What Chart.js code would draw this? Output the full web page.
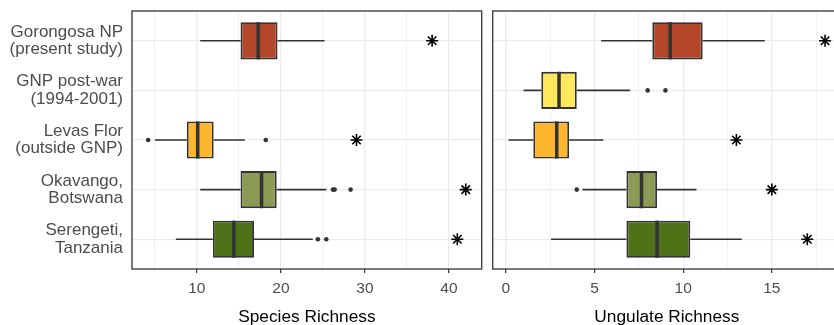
<!DOCTYPE html>
<html>
<head>
<meta charset="utf-8">
<script src="https://cdn.jsdelivr.net/npm/chart.js@4.4.1/dist/chart.umd.min.js"></script>
<style>
html, body { margin: 0; padding: 0; background: #fff; overflow: hidden; width: 834px; height: 325px; }
#speciesChart { position: absolute; left: 0; top: 0; }
#ungulateChart { position: absolute; left: 485px; top: 0; }
</style>
</head>
<body>
<canvas id="speciesChart" width="485" height="325"></canvas>
<canvas id="ungulateChart" width="375" height="325"></canvas>
<script>
// Sites, top to bottom
var siteLabels = [
    ['Gorongosa NP', '(present study)'],
    ['GNP post-war', '(1994-2001)'],
    ['Levas Flor', '(outside GNP)'],
    ['Okavango,', 'Botswana'],
    ['Serengeti,', 'Tanzania']
];
var siteColors = ['#B4462A', '#FFE75E', '#FDB62E', '#8B9A54', '#4F7219'];

// Species richness box stats (null = no data)
var speciesLow    = [10.4, null, 5.0, 10.4, 7.5];
var speciesQ1     = [15.2, null, 8.8, 15.2, 11.9];
var speciesMedian = [17.3, null, 10.1, 17.7, 14.4];
var speciesQ3     = [19.6, null, 12.0, 19.5, 16.8];
var speciesHigh   = [25.2, null, 15.7, 25.4, 23.8];
var speciesOutliers = [[], [], [4.2, 18.2], [26.2, 26.4, 28.3], [24.4, 25.4]];
var speciesStars  = [38.0, null, 29.0, 42.0, 41.0];
var speciesTicks  = [10, 20, 30, 40];
var speciesGrid   = [5, 10, 15, 20, 25, 30, 35, 40];

// Ungulate richness box stats
var ungulateLow    = [5.37, 1.0, 0.15, 4.32, 2.55];
var ungulateQ1     = [8.26, 2.0, 1.55, 6.8, 6.8];
var ungulateMedian = [9.27, 3.0, 2.87, 7.65, 8.53];
var ungulateQ3     = [11.1, 4.0, 3.57, 8.53, 10.4];
var ungulateHigh   = [14.6, 7.0, 5.5, 10.75, 13.3];
var ungulateOutliers = [[], [8.0, 9.0], [], [4.0], []];
var ungulateStars  = [18.0, null, 13.0, 15.0, 17.0];
var ungulateTicks  = [0, 5, 10, 15];
var ungulateGrid   = [0, 2.5, 5, 7.5, 10, 12.5, 15, 17.5];

var BOX_WIDTH = 0.75;
Chart.defaults.font.family = '"Liberation Sans", Arial, sans-serif';

// whiskers, medians, outliers, asterisks and the panel frame
function boxPlotMarks(s) {
    return {
        id: 'boxPlotMarks',
        beforeDatasetsDraw: function(chart) {
            var ctx = chart.ctx, x = chart.scales.x, y = chart.scales.y;
            ctx.save();
            ctx.strokeStyle = '#333333';
            ctx.lineWidth = 1.6;
            s.low.forEach(function(lo, i) {
                if (lo == null) return;
                var py = y.getPixelForValue(i);
                ctx.beginPath();
                ctx.moveTo(x.getPixelForValue(lo), py);
                ctx.lineTo(x.getPixelForValue(s.q1[i]), py);
                ctx.moveTo(x.getPixelForValue(s.q3[i]), py);
                ctx.lineTo(x.getPixelForValue(s.high[i]), py);
                ctx.stroke();
            });
            ctx.restore();
        },
        afterDatasetsDraw: function(chart) {
            var ctx = chart.ctx, x = chart.scales.x, y = chart.scales.y;
            var half = Math.abs(y.getPixelForValue(BOX_WIDTH / 2) - y.getPixelForValue(0));
            ctx.save();
            s.median.forEach(function(m, i) {
                var py = y.getPixelForValue(i);
                if (m != null) {
                    ctx.strokeStyle = '#333333';
                    ctx.lineWidth = 3.5;
                    ctx.beginPath();
                    ctx.moveTo(x.getPixelForValue(m), py - half);
                    ctx.lineTo(x.getPixelForValue(m), py + half);
                    ctx.stroke();
                }
                ctx.fillStyle = '#333333';
                s.outliers[i].forEach(function(v) {
                    ctx.beginPath();
                    ctx.arc(x.getPixelForValue(v), py, 2.3, 0, Math.PI * 2);
                    ctx.fill();
                });
                if (s.stars[i] != null) {
                    var px = x.getPixelForValue(s.stars[i]), r = 6, d = r * 0.7071;
                    ctx.strokeStyle = '#000000';
                    ctx.lineWidth = 1.6;
                    ctx.beginPath();
                    ctx.moveTo(px - r, py); ctx.lineTo(px + r, py);
                    ctx.moveTo(px, py - r); ctx.lineTo(px, py + r);
                    ctx.moveTo(px - d, py - d); ctx.lineTo(px + d, py + d);
                    ctx.moveTo(px - d, py + d); ctx.lineTo(px + d, py - d);
                    ctx.stroke();
                }
            });
            var a = chart.chartArea;
            ctx.strokeStyle = '#333333';
            ctx.lineWidth = 1.3;
            ctx.strokeRect(a.left, a.top, a.right - a.left, a.bottom - a.top);
            ctx.restore();
        }
    };
}

function makePanel(canvasId, s, opts) {
    var boxes = [];
    s.q1.forEach(function(q, i) {
        if (q != null) boxes.push({ x: [q, s.q3[i]], y: i });
    });
    return new Chart(document.getElementById(canvasId), {
        type: 'bar',
        data: {
            datasets: [{
                data: boxes,
                backgroundColor: function(c) { return c.raw ? siteColors[c.raw.y] : '#999'; },
                borderColor: '#333333',
                borderWidth: 1.9,
                borderSkipped: false,
                barPercentage: BOX_WIDTH,
                categoryPercentage: 1
            }]
        },
        options: {
            indexAxis: 'y',
            responsive: false,
            animation: false,
            layout: { padding: opts.padding },
            plugins: { legend: { display: false }, tooltip: { enabled: false } },
            scales: {
                x: {
                    type: 'linear',
                    min: opts.min,
                    max: opts.max,
                    afterBuildTicks: function(scale) {
                        scale.ticks = opts.grid.map(function(v) { return { value: v }; });
                    },
                    afterFit: function(scale) {
                        scale.height = 56;
                        scale.paddingLeft = 0;
                        scale.paddingRight = 0;
                    },
                    border: { display: false },
                    grid: {
                        color: function(c) { return opts.ticks.indexOf(c.tick.value) >= 0 ? '#EBEBEB' : '#EFEFEF'; },
                        lineWidth: function(c) { return opts.ticks.indexOf(c.tick.value) >= 0 ? 1.3 : 0.9; },
                        tickColor: function(c) { return opts.ticks.indexOf(c.tick.value) >= 0 ? '#333333' : 'rgba(0,0,0,0)'; },
                        tickWidth: 1.2,
                        tickLength: 4
                    },
                    ticks: {
                        autoSkip: false,
                        maxRotation: 0,
                        padding: 6,
                        color: '#4D4D4D',
                        font: { size: 15.5 },
                        callback: function(v) { return opts.ticks.indexOf(v) >= 0 ? String(v) : ''; }
                    },
                    title: {
                        display: true,
                        text: opts.title,
                        color: '#000000',
                        padding: { top: 0, bottom: -1 },
                        font: { size: 17.3, lineHeight: 1 }
                    }
                },
                y: {
                    type: 'linear',
                    reverse: true,
                    offset: false,
                    min: -0.6,
                    max: siteLabels.length - 0.4,
                    afterBuildTicks: function(scale) {
                        scale.ticks = siteLabels.map(function(l, i) { return { value: i }; });
                    },
                    afterFit: function(scale) {
                        scale.width = opts.yWidth;
                        scale.paddingTop = 0;
                        scale.paddingBottom = 0;
                    },
                    border: { display: false },
                    grid: { color: '#EBEBEB', lineWidth: 1.3, drawTicks: false, offset: false },
                    ticks: {
                        display: opts.showLabels,
                        padding: 9,
                        color: '#4D4D4D',
                        font: { size: 17, lineHeight: 1.02 },
                        callback: function(v) { return siteLabels[v]; }
                    }
                }
            }
        },
        plugins: [boxPlotMarks(s)]
    });
}

makePanel('speciesChart', {
    low: speciesLow, q1: speciesQ1, median: speciesMedian, q3: speciesQ3, high: speciesHigh,
    outliers: speciesOutliers, stars: speciesStars
}, {
    min: 2.28, max: 43.9, ticks: speciesTicks, grid: speciesGrid,
    title: 'Species Richness', yWidth: 132, showLabels: true,
    padding: { left: 0, right: 3.3, top: 11, bottom: 0 }
});

makePanel('ungulateChart', {
    low: ungulateLow, q1: ungulateQ1, median: ungulateMedian, q3: ungulateQ3, high: ungulateHigh,
    outliers: ungulateOutliers, stars: ungulateStars
}, {
    min: -0.74, max: 18.9, ticks: ungulateTicks, grid: ungulateGrid,
    title: 'Ungulate Richness', yWidth: 0, showLabels: false,
    padding: { left: 7.7, right: 19, top: 11, bottom: 0 }
});
</script>
</body>
</html>
